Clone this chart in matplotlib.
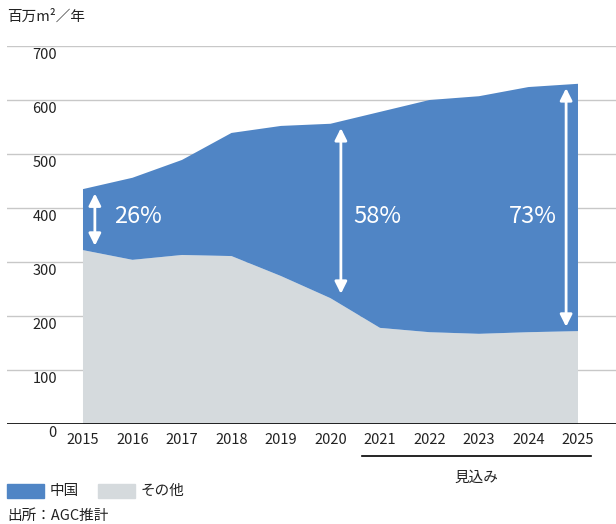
import numpy as np
import matplotlib.pyplot as plt
from matplotlib.patches import Rectangle

plt.rcParams['font.family'] = ['Noto Sans CJK JP', 'DejaVu Sans']

years = [2015, 2016, 2017, 2018, 2019, 2020, 2021, 2022, 2023, 2024, 2025]
total = [435, 456, 489, 539, 552, 556, 578, 600, 607, 624, 630]
other = [322, 304, 313, 311, 274, 233, 178, 170, 167, 170, 172]
china = [t - o for t, o in zip(total, other)]
share_years = [2015, 2020, 2025]
share_labels = ['26%', '58%', '73%']
yticks = [0, 100, 200, 300, 400, 500, 600, 700]

blue = '#5085c5'
gray = '#d5dadd'

fig = plt.figure(figsize=(6.16, 5.24), dpi=100)
ax = fig.add_axes([7 / 616, 100 / 524, 609 / 616, 378 / 524])
ax.set_xlim(2013.465, 2025.768)
ax.set_ylim(0, 700)

for v in yticks[1:]:
    ax.axhline(v, color='#c8c8c8', lw=1, zorder=0)
ax.axhline(0, color='black', lw=1.2, zorder=3)

ax.stackplot(years, other, china, colors=[gray, blue], zorder=2)

for s in ax.spines.values():
    s.set_visible(False)
ax.set_xticks([])
ax.set_yticks([])

# y labels sit just under each gridline
ytrans = ax.get_yaxis_transform()
for v in yticks:
    ax.text(0.082, v - 17, str(v), transform=ytrans, ha='right', va='center',
            fontsize=10.5, color='#222222')

for yr in years:
    ax.text(yr, -30, str(yr), ha='center', va='center', fontsize=10.5,
            color='#222222', clip_on=False)

# share arrows for China
idx = [years.index(y) for y in share_years]
arrow_x = [2015.24, 2020.21, 2024.76]
for k, i in enumerate(idx):
    top = total[i] - 8
    bot = other[i] + 8
    ax.annotate('', xy=(arrow_x[k], top), xytext=(arrow_x[k], bot),
                arrowprops=dict(arrowstyle='<|-|>', color='white', lw=2,
                                mutation_scale=18, shrinkA=0, shrinkB=0),
                zorder=4)
ax.text(2015.63, 385, share_labels[0], color='white', fontsize=17,
        ha='left', va='center', zorder=5)
ax.text(2020.47, 385, share_labels[1], color='white', fontsize=17,
        ha='left', va='center', zorder=5)
ax.text(2024.58, 385, share_labels[2], color='white', fontsize=17,
        ha='right', va='center', zorder=5)

# forecast bracket
ax.plot([2020.63, 2025.26], [-59, -59], color='black', lw=1.2, clip_on=False)
ax.text(2022.94, -100, '見込み', ha='center', va='center', fontsize=10.5,
        color='#222222', clip_on=False)

fig.text(7 / 616, 1 - 17 / 524, '百万m²／年', ha='left', va='center',
         fontsize=10.5, color='#222222')

# legend
fig.patches.append(Rectangle((7 / 616, 1 - 498 / 524), 37 / 616, 14 / 524,
                             transform=fig.transFigure, color=blue))
fig.text(50 / 616, 1 - 491 / 524, '中国', ha='left', va='center',
         fontsize=10.5, color='#222222')
fig.patches.append(Rectangle((98 / 616, 1 - 498 / 524), 37 / 616, 14 / 524,
                             transform=fig.transFigure, color=gray))
fig.text(141 / 616, 1 - 491 / 524, 'その他', ha='left', va='center',
         fontsize=10.5, color='#222222')
fig.text(7 / 616, 1 - 516 / 524, '出所：AGC推計', ha='left', va='center',
         fontsize=10.5, color='#222222')

fig.savefig('out.png', dpi=100)
